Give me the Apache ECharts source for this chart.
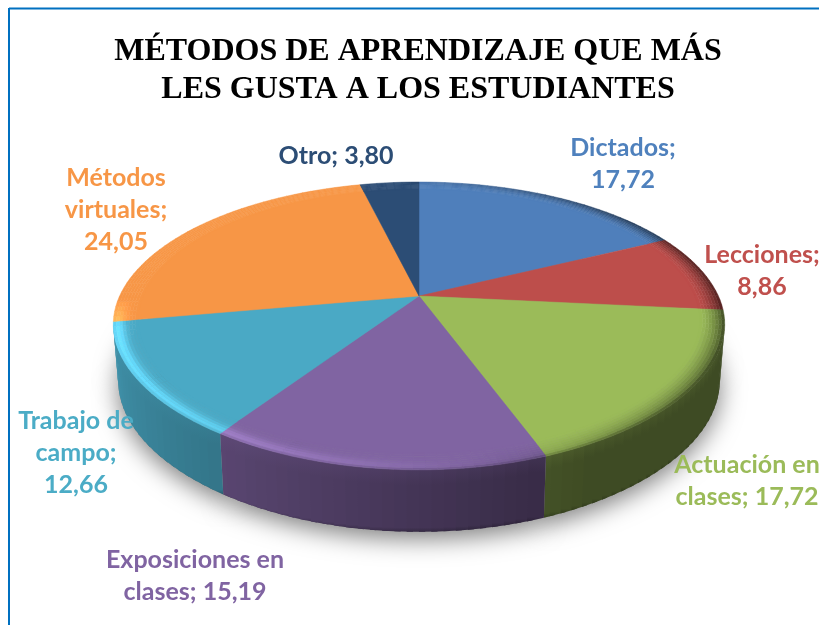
<!DOCTYPE html>
<html><head><meta charset="utf-8">
<style>html,body{margin:0;padding:0;background:#fff}#c{width:819px;height:625px}</style>
<script src="https://cdn.jsdelivr.net/npm/echarts@6/dist/echarts.min.js"></script>
</head><body><div id="c"></div>
<script>
const titleText = 'MÉTODOS DE APRENDIZAJE QUE MÁS\nLES GUSTA A LOS ESTUDIANTES';
const categories = ['Dictados','Lecciones','Actuación en clases','Exposiciones en clases','Trabajo de campo','Métodos virtuales','Otro'];
const values = [17.72,8.86,17.72,15.19,12.66,24.05,3.80];
const labelTemplates = ['Dictados;\n{v}','Lecciones;\n{v}','Actuación en\nclases; {v}','Exposiciones en\nclases; {v}','Trabajo de\ncampo;\n{v}','Métodos\nvirtuales;\n{v}','Otro; {v}'];
const colors = ['#4f7fbb','#bd4e4b','#9bbb59','#8064a2','#4aa9c5','#f79646','#2c4d75'];
const labelColors = ['#4f81bd','#c0504d','#9bbb59','#8064a2','#4bacc6','#f79646','#2c4d75'];
const labelCenters = [[623,164],[762,271],[747,481],[195,576],[76,453],[116,210],[336,156]];

// projection of the tilted disc
const CX=419, CY=296, KX=299.4, KY=137.7, P=0.208;
function proj(a,r){const u=Math.sin(a)*r,v=-Math.cos(a)*r,d=1-P*v,f=1-0.03*Math.pow(Math.max(v,0),2);return [CX+KX*u/d*f,CY+KY*v/d];}
function projLow(a){const v=-Math.cos(a),p=proj(a,1);return [CX+(p[0]-CX)*0.984,p[1]+55+7*Math.max(v,0)];}
const rgb=h=>[1,3,5].map(i=>parseInt(h.substr(i,2),16));
const css=c=>'rgb('+c.map(x=>Math.round(Math.max(0,Math.min(255,x)))).join(',')+')';
const mix=(a,b,t)=>a.map((x,i)=>x+(b[i]-x)*t);
const shadeTable=[[0,.5],[80,.40],[150,.40],[165,.46],[210,.68],[260,.88],[300,.9],[360,.6]];
function wallShade(deg){for(let i=1;i<shadeTable.length;i++){if(deg<=shadeTable[i][0]){const a=shadeTable[i-1],b=shadeTable[i];return a[1]+(b[1]-a[1])*(deg-a[0])/(b[0]-a[0]);}}return .6;}
const total=values.reduce((s,x)=>s+x,0);
let acc=0;
const rows=values.map((v,i)=>{const row=[acc,acc+v,i];acc+=v;return row;});
const fmt=v=>v.toFixed(2).replace('.',',');
const STEP=2*Math.PI/180, LAYERS=8, BEVEL=0.08;

function renderItem(params,api){
  const i=api.value(2), a0=api.value(0)/total*2*Math.PI, a1=api.value(1)/total*2*Math.PI;
  const col=rgb(colors[i]), kids=[];
  const n=Math.max(2,Math.ceil((a1-a0)/STEP)), ang=k=>a0+(a1-a0)*k/n;
  // soft shadow under the front of the body
  const low=[];for(let k=0;k<=n;k++)low.push(projLow(ang(k)));
  low.push([CX,CY+50]);
  kids.push({type:'polygon',z2:1,silent:true,shape:{points:low},style:{fill:'#999',shadowBlur:24,shadowColor:'rgba(0,0,0,0.5)',shadowOffsetY:7,shadowOffsetX:0}});
  // side wall (only the part of the rim that faces the viewer)
  for(let k=n-1;k>=0;k--){
    const s=ang(k),e=ang(k+1),m=(s+e)/2;
    if(-Math.cos(m)<P-0.02) continue;
    const w=mix([0,0,0],col,wallShade(m*180/Math.PI));
    const light=mix(w,col,0.12),dark=mix(w,[0,0,0],0.22);
    const e2=Math.min(a1,e+STEP*.5);
    const pts=[proj(s,1),proj(e2,1),projLow(e2),projLow(s)];
    kids.push({type:'polygon',z2:2,silent:true,shape:{points:pts},style:{
      fill:{type:'linear',x:0,y:0,x2:0,y2:1,colorStops:[{offset:0,color:css(light)},{offset:.25,color:css(w)},{offset:.93,color:css(w)},{offset:1,color:css(dark)}]}}});
  }
  // flat top
  const top=[[CX,CY]];for(let k=0;k<=n;k++)top.push(proj(ang(k),1-BEVEL*.9));
  kids.push({type:'polygon',z2:5,silent:true,shape:{points:top},style:{fill:css(col),stroke:css(col),lineWidth:.5}});
  // bevel bands along the rim, lit from the front left
  const bright=col.map(x=>x*1.28+12);
  for(let k=0;k<n;k++){
    const s=ang(k),e=ang(k+1),m=(s+e)/2,deg=m*180/Math.PI,v=-Math.cos(m);
    const L=Math.cos((deg-262)*Math.PI/180);
    const wall=mix([0,0,0],col,wallShade(deg));
    const frontMask=Math.max(0,Math.min(1,(v-0.02)/.2));
    for(let l=0;l<LAYERS;l++){
      const r1=1-BEVEL*l/LAYERS,r2=1-BEVEL*(l+1)/LAYERS,t=(l+.5)/LAYERS;
      let c=col;
      const bump=Math.exp(-Math.pow((t-.18)/.3,2));
      if(L>0) c=mix(c,bright,L*bump*frontMask);
      const front=Math.max(0,-Math.cos(m));
      const dk=(L<0?Math.min(1,-L*1.15):0)*Math.pow(1-t,1.6)*.95+front*.4*Math.pow(Math.max(0,1-t*4),2);
      c=mix(c,wall,Math.min(1,dk));
      kids.push({type:'polygon',z2:6,silent:true,shape:{points:[proj(s,r1),proj(e,r1),proj(e,r2),proj(s,r2)]},style:{fill:css(c),stroke:css(c),lineWidth:.5}});
    }
  }
  // label
  kids.push({type:'text',z2:50,silent:true,style:{text:labelTemplates[i].replace('{v}',fmt(values[i])),x:labelCenters[i][0],y:labelCenters[i][1],align:'center',verticalAlign:'middle',fill:labelColors[i],fontFamily:'Lato',fontWeight:'bold',fontSize:25,lineHeight:32}});
  return {type:'group',children:kids};
}
const chart=echarts.init(document.getElementById('c'),null,{renderer:'canvas'});
chart.setOption({
  animation:false,backgroundColor:'#fff',
  title:{text:titleText,left:413,top:28,textAlign:'center',textStyle:{fontFamily:'Liberation Serif',fontWeight:'bold',fontSize:32,lineHeight:38,color:'#000'}},
  graphic:[
    {type:'line',silent:true,shape:{x1:9,y1:8.5,x2:819,y2:8.5},style:{stroke:'#0070c0',lineWidth:2}},
    {type:'line',silent:true,shape:{x1:9,y1:8,x2:9,y2:625},style:{stroke:'#0070c0',lineWidth:2}}
  ],
  series:[{type:'custom',coordinateSystem:'none',renderItem,data:rows,silent:true}]
});
</script></body></html>
